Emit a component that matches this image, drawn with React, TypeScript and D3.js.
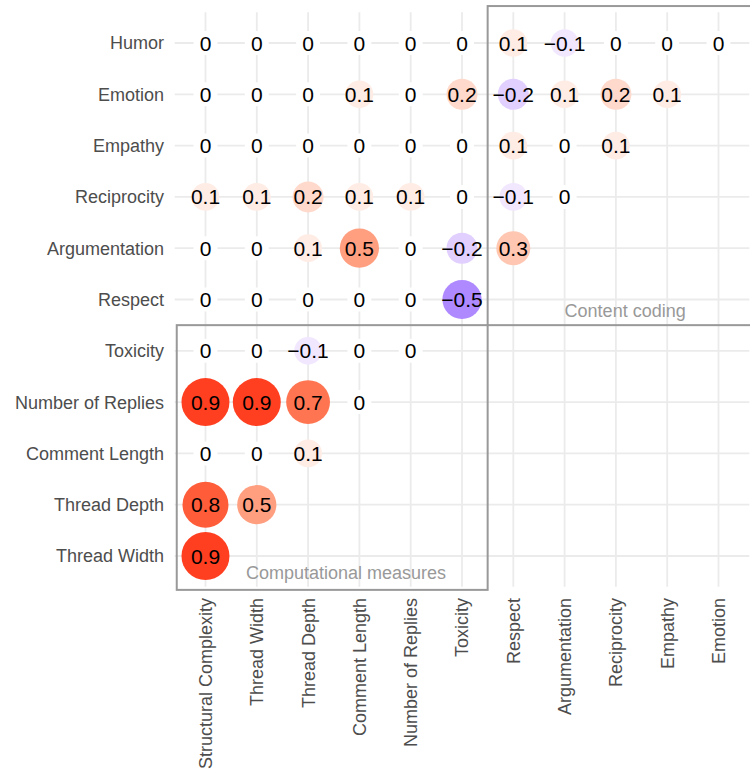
import React from "react";
import * as d3 from "d3";

const colLabels = [
  "Structural Complexity",
  "Thread Width",
  "Thread Depth",
  "Comment Length",
  "Number of Replies",
  "Toxicity",
  "Respect",
  "Argumentation",
  "Reciprocity",
  "Empathy",
  "Emotion",
];

const rowLabels = [
  "Humor",
  "Emotion",
  "Empathy",
  "Reciprocity",
  "Argumentation",
  "Respect",
  "Toxicity",
  "Number of Replies",
  "Comment Length",
  "Thread Depth",
  "Thread Width",
];

const humor = [0, 0, 0, 0, 0, 0, 0.1, -0.1, 0, 0, 0];
const emotion = [0, 0, 0, 0.1, 0, 0.2, -0.2, 0.1, 0.2, 0.1];
const empathy = [0, 0, 0, 0, 0, 0, 0.1, 0, 0.1];
const reciprocity = [0.1, 0.1, 0.2, 0.1, 0.1, 0, -0.1, 0];
const argumentation = [0, 0, 0.1, 0.5, 0, -0.2, 0.3];
const respect = [0, 0, 0, 0, 0, -0.5];
const toxicity = [0, 0, -0.1, 0, 0];
const numberOfReplies = [0.9, 0.9, 0.7, 0];
const commentLength = [0, 0, 0.1];
const threadDepth = [0.8, 0.5];
const threadWidth = [0.9];

const rowValues = [
  humor,
  emotion,
  empathy,
  reciprocity,
  argumentation,
  respect,
  toxicity,
  numberOfReplies,
  commentLength,
  threadDepth,
  threadWidth,
];

const groupBoxes = [
  { label: "Content coding", x0: 5.5, x1: 10.85, y0: -0.72, y1: 5.5, lx: 8.18, ly: 5.22 },
  { label: "Computational measures", x0: -0.56, x1: 5.5, y0: 5.5, y1: 10.66, lx: 2.74, ly: 10.33 },
];

const W = 750;
const H = 771;
const FONT = "'Liberation Sans', Arial, Helvetica, sans-serif";

export default function App() {
  const x = d3.scalePoint<string>().domain(colLabels).range([174.7, 749.3]).padding(0.6);
  const y = d3.scalePoint<string>().domain(rowLabels).range([12.2, 586.8]).padding(0.6);
  const xi = d3.scaleLinear().domain([0, colLabels.length - 1]).range([x(colLabels[0])!, x(colLabels[colLabels.length - 1])!]);
  const yi = d3.scaleLinear().domain([0, rowLabels.length - 1]).range([y(rowLabels[0])!, y(rowLabels[rowLabels.length - 1])!]);
  const area = d3.scaleLinear().domain([0, 0.9]).range([144, 576]);
  const r = (v: number) => Math.sqrt(area(Math.abs(v)));
  const posCol = d3.interpolateLab("#ffffff", "#ff0000");
  const negCol = d3.interpolateLab("#ffffff", "#0000ff");
  const fill = (v: number) => (v >= 0 ? posCol(v) : negCol(-v));
  const fmt = (v: number) => (v < 0 ? "\u2212" + Math.abs(v) : String(v));

  const cells: { row: string; col: string; v: number }[] = [];
  rowValues.forEach((vals, i) => {
    vals.forEach((v, j) => cells.push({ row: rowLabels[i], col: colLabels[j], v }));
  });

  const [px0, px1] = x.range();
  const [py0, py1] = y.range();

  return (
    <div style={{ position: "absolute", left: 0, top: 0 }}>
      <svg width={W} height={H} style={{ display: "block", fontFamily: FONT }}>
        <rect width={W} height={H} fill="#ffffff" />
        <g>
          {rowLabels.map((rl) => (
            <line key={"h" + rl} x1={px0} x2={px1} y1={y(rl)} y2={y(rl)} stroke="#ebebeb" strokeWidth={1.8} />
          ))}
          {colLabels.map((cl) => (
            <line key={"v" + cl} x1={x(cl)} x2={x(cl)} y1={py0} y2={py1} stroke="#ebebeb" strokeWidth={1.8} />
          ))}
        </g>
        <g>
          {cells.map((c) => (
            <circle key={"c" + c.row + c.col} cx={x(c.col)} cy={y(c.row)} r={r(c.v)} fill={fill(c.v)} />
          ))}
          {cells.map((c) => (
            <text
              key={"t" + c.row + c.col}
              x={x(c.col)}
              y={y(c.row)}
              dy="0.36em"
              textAnchor="middle"
              fontSize={21}
              fill="#000000"
            >
              {fmt(c.v)}
            </text>
          ))}
        </g>
        <g>
          {groupBoxes.map((b) => (
            <g key={b.label}>
              <rect
                x={xi(b.x0)}
                y={yi(b.y0)}
                width={xi(b.x1) - xi(b.x0)}
                height={yi(b.y1) - yi(b.y0)}
                fill="none"
                stroke="#999999"
                strokeWidth={2}
              />
              <text x={xi(b.lx)} y={yi(b.ly)} dy="0.36em" textAnchor="middle" fontSize={18} fill="#999999">
                {b.label}
              </text>
            </g>
          ))}
        </g>
        <g>
          {rowLabels.map((rl) => (
            <text key={"yl" + rl} x={164} y={y(rl)} dy="0.36em" textAnchor="end" fontSize={18} fill="#4d4d4d">
              {rl}
            </text>
          ))}
          {colLabels.map((cl) => (
            <text
              key={"xl" + cl}
              transform={`translate(${x(cl)},598) rotate(-90)`}
              dy="0.36em"
              textAnchor="end"
              fontSize={18}
              fill="#4d4d4d"
            >
              {cl}
            </text>
          ))}
        </g>
      </svg>
    </div>
  );
}
